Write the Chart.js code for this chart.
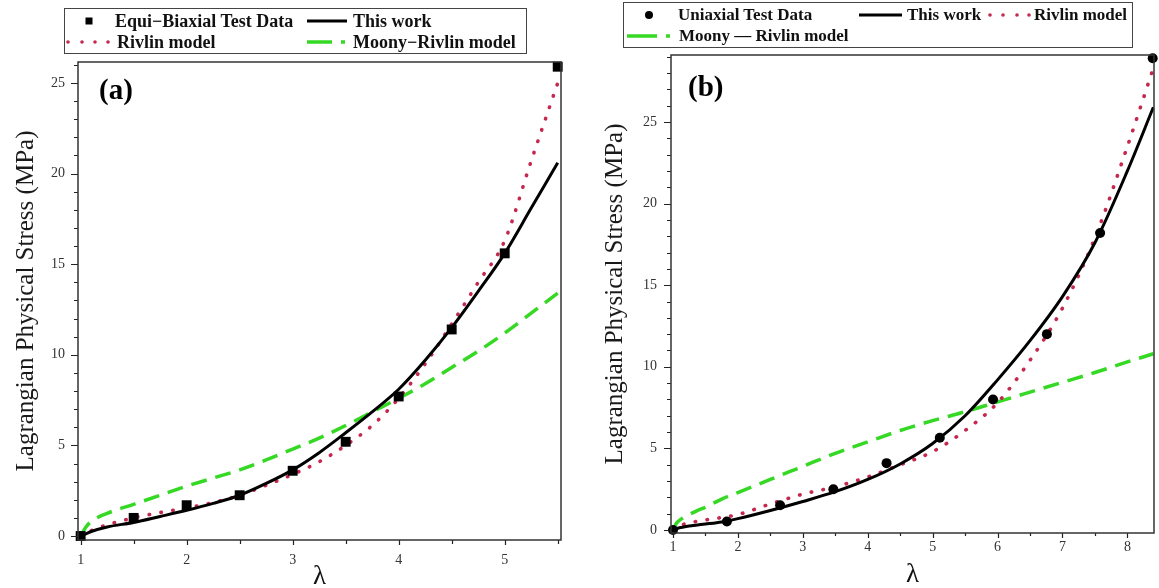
<!DOCTYPE html>
<html><head><meta charset="utf-8">
<script src="https://cdn.jsdelivr.net/npm/chart.js@4.4.1/dist/chart.umd.min.js"></script>
<style>
html,body{margin:0;padding:0;background:#fff;}
#wrap{position:relative;width:1159px;height:588px;overflow:hidden;background:#fff;font-family:"Liberation Serif","Times New Roman",serif;}
canvas{position:absolute;top:0;}
#cA{left:0;} #cB{left:580px;}
.t{position:absolute;white-space:nowrap;font-weight:bold;color:#111;height:20px;line-height:20px;}
.pl{position:absolute;font-weight:bold;font-size:29px;color:#000;line-height:30px;}
svg{position:absolute;left:0;top:0;pointer-events:none}
</style></head>
<body><div id="wrap">
<canvas id="cA" width="580" height="588"></canvas>
<canvas id="cB" width="579" height="588"></canvas>
<svg width="1159" height="588">
  <rect x="64.5" y="8.5" width="462" height="45" fill="#fff" stroke="#444" stroke-width="1"/>
  <rect x="85.5" y="17.5" width="7" height="7" fill="#000"/>
  <line x1="307" y1="21" x2="347" y2="21" stroke="#000" stroke-width="3"/>
  <g fill="#c4284e"><circle cx="68" cy="42" r="1.8"/><circle cx="82" cy="42" r="1.8"/><circle cx="95" cy="42" r="1.8"/><circle cx="108" cy="42" r="1.8"/></g>
  <line x1="307" y1="42" x2="332" y2="42" stroke="#35d923" stroke-width="3.5"/>
  <line x1="341" y1="42" x2="345" y2="42" stroke="#35d923" stroke-width="3.5"/>
  <rect x="623.5" y="2.5" width="509" height="45" fill="#fff" stroke="#444" stroke-width="1"/>
  <circle cx="649" cy="15" r="4" fill="#000"/>
  <line x1="859" y1="15" x2="902" y2="15" stroke="#000" stroke-width="3"/>
  <g fill="#c4284e"><circle cx="990" cy="15" r="1.8"/><circle cx="1003" cy="15" r="1.8"/><circle cx="1017" cy="15" r="1.8"/><circle cx="1029" cy="15" r="1.8"/></g>
  <line x1="627" y1="36" x2="657" y2="36" stroke="#35d923" stroke-width="3.5"/>
  <line x1="666" y1="36" x2="670" y2="36" stroke="#35d923" stroke-width="3.5"/>
</svg>
<div class="t" style="left:115px;top:11px;font-size:18px">Equi−Biaxial Test Data</div>
<div class="t" style="left:353px;top:11px;font-size:18px">This work</div>
<div class="t" style="left:117px;top:32px;font-size:18px">Rivlin model</div>
<div class="t" style="left:353px;top:32px;font-size:18px">Moony−Rivlin model</div>
<div class="t" style="left:678px;top:5px;font-size:17px">Uniaxial Test Data</div>
<div class="t" style="left:907px;top:5px;font-size:17px">This work</div>
<div class="t" style="left:1034px;top:5px;font-size:17px">Rivlin model</div>
<div class="t" style="left:679px;top:26px;font-size:17px">Moony — Rivlin model</div>
<div class="pl" style="left:99px;top:74px">(a)</div>
<div class="pl" style="left:688px;top:71px">(b)</div>
</div>
<script>
// ---------- Panel (a): Equi-biaxial ----------
const xDataA = [1, 1.5, 2, 2.5, 3, 3.5, 4, 4.5, 5, 5.5];
const yDataA = [0, 1.0, 1.7, 2.25, 3.6, 5.2, 7.7, 11.4, 15.6, 25.9];
const xCurveA = [1, 1.05, 1.1, 1.25, 1.5, 1.75, 2, 2.25, 2.5, 2.75, 3, 3.25, 3.5, 3.75, 4, 4.25, 4.5, 4.75, 5, 5.25, 5.5];
const thisWorkA = [0, 0.12, 0.25, 0.5, 0.75, 1.08, 1.42, 1.8, 2.25, 2.9, 3.65, 4.6, 5.7, 6.85, 8.1, 9.7, 11.5, 13.5, 15.6, 18.1, 20.6];
const rivlinA = [0, 0.15, 0.3, 0.62, 1.0, 1.3, 1.55, 1.85, 2.25, 2.8, 3.4, 4.1, 5.0, 6.1, 7.6, 9.5, 11.7, 14.0, 16.3, 20.7, 25.0];
const mooneyA = [0, 0.5, 0.8, 1.25, 1.75, 2.25, 2.75, 3.2, 3.65, 4.2, 4.8, 5.4, 6.1, 6.85, 7.6, 8.4, 9.3, 10.2, 11.2, 12.3, 13.4];
const xTicksA = [1, 2, 3, 4, 5];
const yTicksA = [0, 5, 10, 15, 20, 25];

// ---------- Panel (b): Uniaxial ----------
const xDataB = [1, 1.83, 2.65, 3.47, 4.29, 5.11, 5.93, 6.76, 7.58, 8.39];
const yDataB = [0, 0.52, 1.52, 2.5, 4.1, 5.65, 8.0, 12.0, 18.2, 28.9];
const xCurveB = [1, 1.05, 1.1, 1.2, 1.35, 1.5, 1.75, 2, 2.5, 3, 3.5, 4, 4.5, 5, 5.5, 6, 6.5, 7, 7.5, 8, 8.4];
const thisWorkB = [0, 0.08, 0.14, 0.22, 0.3, 0.37, 0.5, 0.7, 1.2, 1.75, 2.35, 3.1, 4.05, 5.3, 7.0, 9.2, 11.6, 14.3, 17.6, 22.0, 25.9];
const rivlinB = [0, 0.15, 0.25, 0.4, 0.52, 0.62, 0.77, 0.95, 1.6, 2.2, 2.65, 3.25, 4.0, 4.8, 6.1, 7.8, 10.4, 13.6, 17.9, 23.5, 28.3];
const mooneyB = [0, 0.4, 0.6, 0.85, 1.15, 1.4, 1.9, 2.3, 3.1, 3.9, 4.7, 5.4, 6.1, 6.7, 7.25, 7.85, 8.45, 9.05, 9.65, 10.3, 10.8];
const xTicksB = [1, 2, 3, 4, 5, 6, 7, 8];
const yTicksB = [0, 5, 10, 15, 20, 25];

const RED = '#c4284e', GREEN = '#35d923';
const SERIF = "'Liberation Serif', 'Times New Roman', serif";
const pts = (xs, ys) => xs.map((x, i) => ({x, y: ys[i]}));

const framePlugin = {
  id: 'frame',
  afterDatasetsDraw(chart, args, o) {
    const {ctx, chartArea: a, scales: {x, y}} = chart;
    ctx.save();
    ctx.strokeStyle = '#222';
    ctx.lineWidth = 1.2;
    ctx.beginPath();
    for (let v = o.xStart; v <= x.max + 1e-9; v += o.xStep) {
      const px = Math.round(x.getPixelForValue(v)) + 0.5;
      const major = o.xMajor.some(m => Math.abs(m - v) < 1e-6);
      ctx.moveTo(px, a.bottom);
      ctx.lineTo(px, a.bottom + (major ? o.xMajorLen : o.xMinorLen));
    }
    for (let v = o.yStart; v <= y.max + 1e-9; v += o.yStep) {
      const py = Math.round(y.getPixelForValue(v)) + 0.5;
      const major = o.yMajor.some(m => Math.abs(m - v) < 1e-6);
      ctx.moveTo(a.left, py);
      ctx.lineTo(a.left - (major ? o.yMajorLen : o.yMinorLen), py);
    }
    ctx.stroke();
    ctx.lineWidth = 1.5;
    ctx.strokeStyle = '#333';
    ctx.strokeRect(a.left, a.top, a.right - a.left, a.bottom - a.top);
    ctx.restore();
  }
};

function makeChart(id, cfg) {
  const datasets = [
    {label: cfg.dataLabel, data: pts(cfg.xData, cfg.yData), showLine: false,
     pointStyle: cfg.pointStyle, pointRadius: cfg.pointRadius, backgroundColor: '#000', borderColor: '#000', borderWidth: 0, clip: false},
    {label: 'This work', data: pts(cfg.xCurve, cfg.thisWork), showLine: true, pointRadius: 0,
     borderColor: '#000', borderWidth: 3, cubicInterpolationMode: 'monotone'},
    {label: 'Rivlin model', data: pts(cfg.xCurve, cfg.rivlin), showLine: true, pointRadius: 0,
     borderColor: RED, borderWidth: 3.6, borderDash: [0.5, 11.5], borderCapStyle: 'round', cubicInterpolationMode: 'monotone'},
    {label: 'Moony-Rivlin model', data: pts(cfg.xCurve, cfg.mooney), showLine: true, pointRadius: 0,
     borderColor: GREEN, borderWidth: 3.5, borderDash: [16, 9], cubicInterpolationMode: 'monotone'}
  ];
  return new Chart(document.getElementById(id), {
    type: 'scatter',
    data: {datasets},
    plugins: [framePlugin],
    options: {
      responsive: false, animation: false, devicePixelRatio: 1,
      layout: {padding: cfg.padding},
      plugins: {legend: {display: false}, tooltip: {enabled: false}, frame: cfg.frame},
      scales: {
        x: {
          type: 'linear', position: 'bottom', min: cfg.xMin, max: cfg.xMax,
          afterBuildTicks: s => { s.ticks = cfg.xTicks.map(v => ({value: v})); },
          afterFit: s => { s.height = cfg.xHeight; },
          grid: {drawOnChartArea: false, drawTicks: true, tickLength: cfg.xTickLen, tickColor: 'rgba(0,0,0,0)', color: 'rgba(0,0,0,0)'},
          border: {display: false},
          ticks: {padding: cfg.xPad, color: '#333', font: {family: SERIF, size: 14}, maxRotation: 0, autoSkip: false},
          title: {display: true, text: 'λ', color: '#111', font: {family: SERIF, size: 27, lineHeight: cfg.lamLH}, padding: 0}
        },
        y: {
          type: 'linear', position: 'left', min: cfg.yMin, max: cfg.yMax,
          afterBuildTicks: s => { s.ticks = cfg.yTicks.map(v => ({value: v})); },
          afterFit: s => { s.width = cfg.yWidth; },
          grid: {drawOnChartArea: false, drawTicks: true, tickLength: 7, tickColor: 'rgba(0,0,0,0)', color: 'rgba(0,0,0,0)'},
          border: {display: false},
          ticks: {padding: cfg.yPad, color: '#333', font: {family: SERIF, size: 14}, autoSkip: false},
          title: {display: true, text: 'Lagrangian Physical Stress (MPa)', color: '#1a1a1a',
                  font: {family: SERIF, size: 25, lineHeight: 1.2}, padding: {top: cfg.yTitlePad, bottom: 0}}
        }
      }
    }
  });
}

makeChart('cA', {
  dataLabel: 'Equi−Biaxial Test Data', xData: xDataA, yData: yDataA, xCurve: xCurveA,
  thisWork: thisWorkA, rivlin: rivlinA, mooney: mooneyA, xTicks: xTicksA, yTicks: yTicksA,
  pointStyle: 'rect', pointRadius: 7,
  padding: {left: 0, right: 19, top: 62, bottom: 0},
  xMin: 0.975, xMax: 5.531, yMin: -0.22, yMax: 26.16,
  xHeight: 48, yWidth: 78, xTickLen: 5, xPad: 7, yPad: 6, lamLH: 0.85, yTitlePad: 11,
  frame: {xStart: 1, xStep: 0.5, xMajor: xTicksA, xMajorLen: 5, xMinorLen: 4,
          yStart: 0, yStep: 1, yMajor: yTicksA, yMajorLen: 7, yMinorLen: 4}
});

makeChart('cB', {
  dataLabel: 'Uniaxial Test Data', xData: xDataB, yData: yDataB, xCurve: xCurveB,
  thisWork: thisWorkB, rivlin: rivlinB, mooney: mooneyB, xTicks: xTicksB, yTicks: yTicksB,
  pointStyle: 'circle', pointRadius: 5,
  padding: {left: 0, right: 5, top: 55, bottom: 0},
  xMin: 0.969, xMax: 8.41, yMin: -0.18, yMax: 29.1,
  xHeight: 55, yWidth: 91, xTickLen: 5, xPad: 1, yPad: 7, lamLH: 0.95, yTitlePad: 20,
  frame: {xStart: 1, xStep: 0.5, xMajor: xTicksB, xMajorLen: 5, xMinorLen: 3,
          yStart: 0, yStep: 1, yMajor: yTicksB, yMajorLen: 7, yMinorLen: 4}
});
</script>
</body></html>
